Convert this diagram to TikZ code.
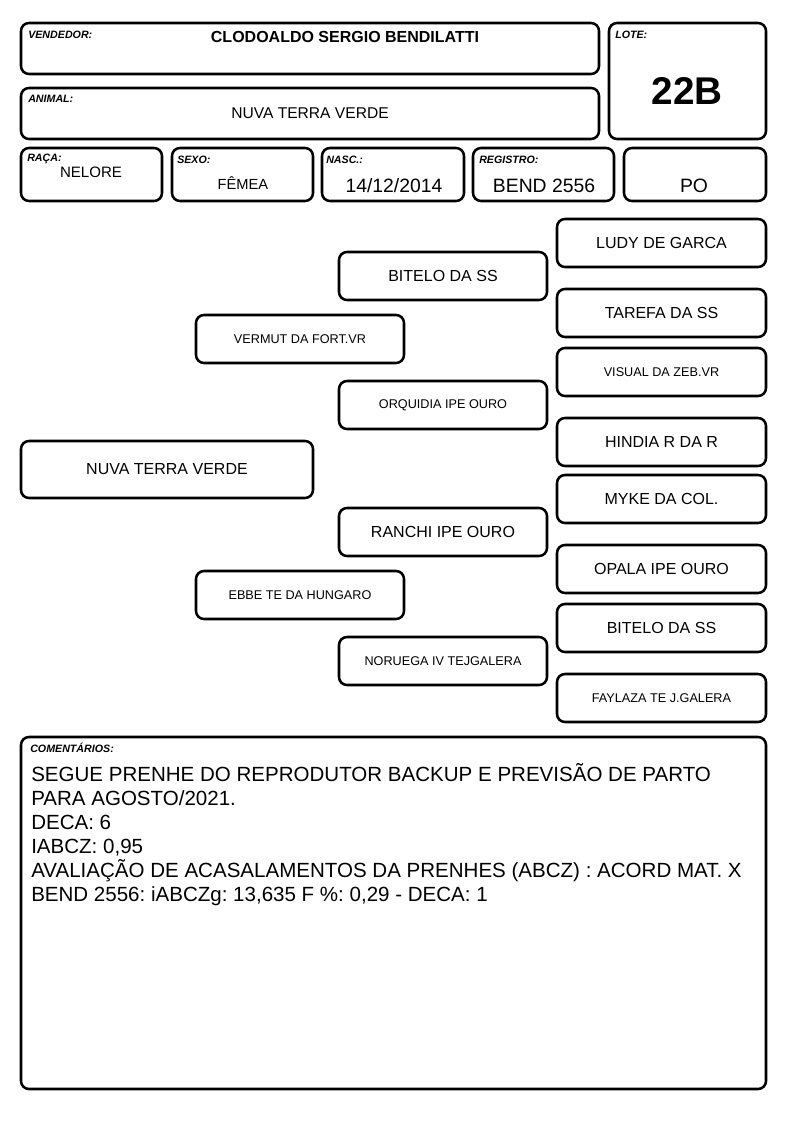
\documentclass[tikz,border=0pt]{standalone}
\usepackage{fontspec}
\setmainfont{Liberation Sans}
\frenchspacing
\tikzset{
  caixa/.style={draw, line width=1.9pt, rounded corners=6pt},
  rotulo/.style={anchor=base west, inner sep=0pt, font=\bfseries\itshape\fontsize{8}{9}\selectfont},
  nome/.style={inner sep=0pt, font=\fontsize{12}{14}\selectfont},
  nomep/.style={inner sep=0pt, font=\fontsize{9.5}{11}\selectfont},
  valor/.style={inner sep=0pt, font=\fontsize{14.5}{16}\selectfont},
  linha/.style={anchor=base west, inner sep=0pt, font=\fontsize{15.4}{18}\selectfont},
}
\begin{document}
\begin{tikzpicture}[x=0.75pt, y=-0.75pt]
\useasboundingbox (0,0) rectangle (794,1123);
% cabecalho
\draw[caixa] (21,23) rectangle (599,74);
\node[rotulo] (lvend) at (28,39) {VENDEDOR:};
\node[inner sep=0pt, font=\bfseries\fontsize{12}{14}\selectfont] (vend) at (345,37) {CLODOALDO SERGIO BENDILATTI};
\draw[caixa] (21,88) rectangle (599,139);
\node[rotulo] (lanimal) at (28,103) {ANIMAL:};
\node[inner sep=0pt, font=\fontsize{11.7}{14}\selectfont] (animal) at (310,113) {NUVA TERRA VERDE};
\draw[caixa] (609,23) rectangle (766,139);
\node[rotulo] (llote) at (615,39) {LOTE:};
\node[inner sep=0pt, font=\bfseries\fontsize{29}{32}\selectfont] (lote) at (687,91) {22B};
% dados
\draw[caixa] (21,148) rectangle (162,201);
\node[rotulo] (lraca) at (27,162) {RAÇA:};
\node[inner sep=0pt, font=\fontsize{11.3}{14}\selectfont] (raca) at (91,172) {NELORE};
\draw[caixa] (172,148) rectangle (313,201);
\node[rotulo] (lsexo) at (177,164) {SEXO:};
\node[inner sep=0pt, font=\fontsize{11}{14}\selectfont] (sexo) at (243,183) {FÊMEA};
\draw[caixa] (322,148) rectangle (464,201);
\node[rotulo] (lnasc) at (326,164) {NASC.:};
\node[valor] (nasc) at (394,186) {14/12/2014};
\draw[caixa] (473,148) rectangle (614,201);
\node[rotulo] (lreg) at (479,164) {REGISTRO:};
\node[valor] (reg) at (544,186) {BEND 2556};
\draw[caixa] (624,148) rectangle (766,201);
\node[valor] (cat) at (694,186) {PO};
% genealogia
\draw[caixa] (21,441) rectangle (313,498);
\node[nome] (animalg) at (167,469.5) {NUVA TERRA VERDE};
\draw[caixa] (196,315) rectangle (404,363);
\node[nomep] (pai) at (300,339) {VERMUT DA FORT.VR};
\draw[caixa] (196,571) rectangle (404,619);
\node[nomep] (mae) at (300,595) {EBBE TE DA HUNGARO};
\draw[caixa] (339,252) rectangle (547,300);
\node[nome] (avo1) at (443,276) {BITELO DA SS};
\draw[caixa] (339,381) rectangle (547,429);
\node[nomep] (avo2) at (443,405) {ORQUIDIA IPE OURO};
\draw[caixa] (339,508) rectangle (547,556);
\node[nome] (avo3) at (443,532) {RANCHI IPE OURO};
\draw[caixa] (339,637) rectangle (547,685);
\node[nomep] (avo4) at (443,661) {NORUEGA IV TEJGALERA};
\draw[caixa] (557,219) rectangle (766,267);
\node[nome] (bis1) at (661.5,243) {LUDY DE GARCA};
\draw[caixa] (557,289) rectangle (766,337);
\node[nome] (bis2) at (661.5,313) {TAREFA DA SS};
\draw[caixa] (557,348) rectangle (766,396);
\node[nomep] (bis3) at (661.5,372) {VISUAL DA ZEB.VR};
\draw[caixa] (557,418) rectangle (766,466);
\node[nome] (bis4) at (661.5,442) {HINDIA R DA R};
\draw[caixa] (557,475) rectangle (766,523);
\node[nome] (bis5) at (661.5,499) {MYKE DA COL.};
\draw[caixa] (557,545) rectangle (766,593);
\node[nome] (bis6) at (661.5,569) {OPALA IPE OURO};
\draw[caixa] (557,604) rectangle (766,652);
\node[nome] (bis7) at (661.5,628) {BITELO DA SS};
\draw[caixa] (557,674) rectangle (766,722);
\node[nomep] (bis8) at (661.5,698) {FAYLAZA TE J.GALERA};
% comentarios
\draw[caixa] (21,737) rectangle (766,1089);
\node[rotulo] (lcom) at (30,752) {COMENTÁRIOS:};
\node[linha] (com1) at (31,781) {SEGUE PRENHE DO REPRODUTOR BACKUP E PREVISÃO DE PARTO};
\node[linha] (com2) at (31,805) {PARA AGOSTO/2021.};
\node[linha] (com3) at (31,829) {DECA: 6};
\node[linha] (com4) at (31,853) {IABCZ: 0,95};
\node[linha] (com5) at (31,877) {AVALIAÇÃO DE ACASALAMENTOS DA PRENHES (ABCZ) : ACORD MAT. X};
\node[linha] (com6) at (31,901) {BEND 2556: iABCZg: 13,635 F \%: 0,29 - DECA: 1};
\end{tikzpicture}
\end{document}
